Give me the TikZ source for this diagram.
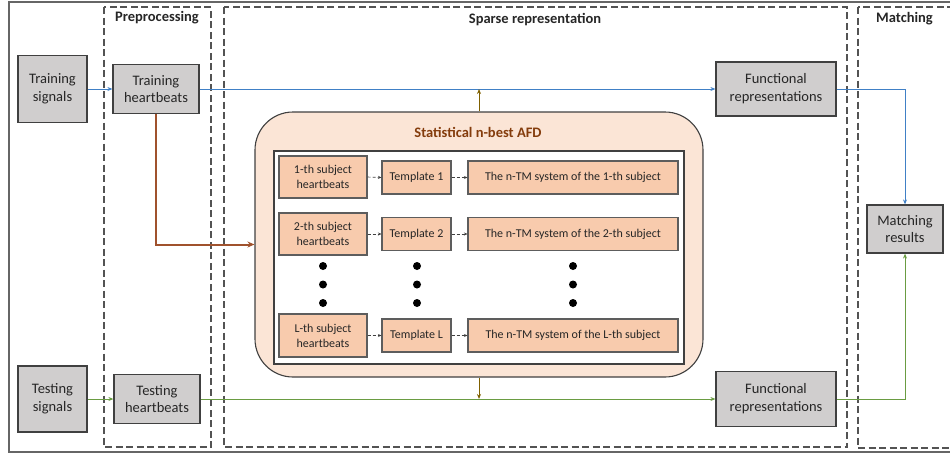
\documentclass[tikz,border=0pt]{standalone}
\usepackage{fontspec}
\setmainfont{Carlito}
\usetikzlibrary{arrows.meta,positioning}
\definecolor{grayfill}{HTML}{D0CECE}
\definecolor{boxline}{HTML}{404040}
\definecolor{orfill}{HTML}{F8CBAD}
\definecolor{afdfill}{HTML}{FBE5D6}
\definecolor{titlebrown}{HTML}{843C0C}
\definecolor{bluel}{HTML}{4080C6}
\definecolor{greenl}{HTML}{6A9C42}
\definecolor{brownl}{HTML}{A0522D}
\definecolor{olivel}{HTML}{7F6000}
\definecolor{txt}{HTML}{262626}
\tikzset{
  graybox/.style={draw=boxline,line width=1.2pt,fill=grayfill,inner sep=0pt,align=center,
    text=txt,font=\fontsize{14.5}{17.8}\selectfont},
  orbox/.style={draw=boxline!85,line width=1.1pt,fill=orfill,inner sep=0pt,align=center,
    text=txt,font=\fontsize{12}{15}\selectfont},
  stage/.style={draw=boxline!90,dashed,dash pattern=on 7pt off 3.5pt,line width=1.1pt},
  stagetitle/.style={font=\bfseries\fontsize{14.5}{17}\selectfont,text=txt},
  blueflow/.style={draw=bluel,line width=0.85pt,-{Stealth[length=5pt,width=4pt]}},
  greenflow/.style={draw=greenl,line width=0.85pt,-{Stealth[length=5pt,width=4pt]}},
  oliveflow/.style={draw=olivel,line width=0.9pt,-{Stealth[length=5pt,width=4pt]}},
  dashflow/.style={draw=boxline,dashed,dash pattern=on 3pt off 2pt,line width=0.6pt,-{Stealth[length=3.5pt,width=3pt]}},
  dotmark/.style={circle,fill=black,inner sep=0pt,minimum size=8pt}
}
\begin{document}
\begin{tikzpicture}[x=1pt,y=-1pt]
\useasboundingbox (0,0) rectangle (950,456);
\clip (0,0) rectangle (950,456);
% outer frame
\draw[draw=boxline!80,line width=1.1pt] (9,2) rectangle (990,452);
% stage boxes
\draw[stage] (104,7) rectangle (211,447);
\draw[stage] (224,7) rectangle (847,447);
\draw[stage] (858,7) rectangle (990,448);
\node[stagetitle] (tpre) at (157,18) {Preprocessing};
\node[stagetitle] (tsparse) at (535,20) {Sparse representation};
\node[stagetitle] (tmatch) at (904.5,19) {Matching};
% AFD container
\node[draw=boxline,line width=1.1pt,fill=afdfill,rounded corners=38pt,minimum width=448pt,minimum height=265pt,inner sep=0pt] (afd) at (479,244.5) {};
\node[font=\bfseries\fontsize{14.5}{17}\selectfont,text=titlebrown] (afdtitle) at (478,132) {Statistical n-best AFD};
\node[draw=boxline,line width=1.1pt,fill=white,minimum width=410pt,minimum height=213pt,inner sep=0pt] (inner) at (479,257.5) {};
% rows
\node[orbox,minimum width=88pt,minimum height=42pt] (s1) at (323,177) {1-th subject\\heartbeats};
\node[orbox,minimum width=69pt,minimum height=33pt] (t1) at (416.5,177.5) {Template 1};
\node[orbox,minimum width=210pt,minimum height=33pt] (n1) at (573,177.5) {The n-TM system of the 1-th subject};
\node[orbox,minimum width=88pt,minimum height=42pt] (s2) at (323,234) {2-th subject\\heartbeats};
\node[orbox,minimum width=69pt,minimum height=33pt] (t2) at (416.5,234) {Template 2};
\node[orbox,minimum width=210pt,minimum height=33pt] (n2) at (573,234) {The n-TM system of the 2-th subject};
\node[orbox,minimum width=88pt,minimum height=43pt] (sL) at (323,335.5) {L-th subject\\heartbeats};
\node[orbox,minimum width=69pt,minimum height=33pt] (tL) at (416.5,335.5) {Template L};
\node[orbox,minimum width=210pt,minimum height=33pt] (nL) at (573,335.5) {The n-TM system of the L-th subject};
\foreach \xx/\nm in {323/a,417/b,573/c}{
  \foreach \yy/\k in {266/1,284.5/2,303/3}{
    \node[dotmark] (dot\nm\k) at (\xx,\yy) {};
  }
}
\foreach \r in {1,2,L}{
  \draw[dashflow] (s\r.east) -- (t\r.west);
  \draw[dashflow] (t\r.east) -- (n\r.west);
}
% gray nodes
\node[graybox,minimum width=69pt,minimum height=67pt] (ts) at (52.5,89) {Training\\signals};
\node[graybox,minimum width=86pt,minimum height=49pt] (th) at (156,89) {Training\\heartbeats};
\node[graybox,minimum width=69pt,minimum height=66pt] (es) at (52.5,399) {Testing\\signals};
\node[graybox,minimum width=86pt,minimum height=49pt] (eh) at (157,399) {Testing\\heartbeats};
\node[graybox,minimum width=120pt,minimum height=54pt] (fr1) at (776,89) {Functional\\representations};
\node[graybox,minimum width=120pt,minimum height=55pt] (fr2) at (776,399) {Functional\\representations};
\node[graybox,minimum width=76pt,minimum height=48pt] (mr) at (905,229) {Matching\\results};
% connectors
\draw[blueflow] (ts.east) -- (th.west);
\draw[blueflow] (th.east) -- (fr1.west);
\draw[blueflow] (fr1.east) -| (mr.north);
\draw[greenflow] (es.east) -- (eh.west);
\draw[greenflow] (eh.east) -- (fr2.west);
\draw[greenflow] (fr2.east) -| (mr.south);
\coordinate (upend) at (afd.north |- th.east);
\coordinate (downend) at (afd.south |- eh.east);
\draw[oliveflow] (afd.north) -- (upend);
\draw[oliveflow] (afd.south) -- (downend);
\draw[draw=brownl,line width=2pt,-{Stealth[length=7pt,width=6pt]}] (th.south) |- (afd.west);
\end{tikzpicture}
\end{document}
